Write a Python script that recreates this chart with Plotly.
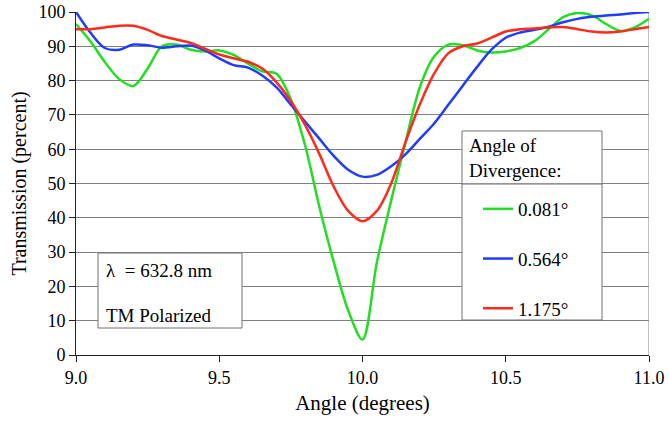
import plotly.graph_objects as go

angle = [9.00, 9.05, 9.10, 9.15, 9.20, 9.25, 9.30, 9.35, 9.40, 9.45,
         9.50, 9.55, 9.60, 9.65, 9.70, 9.75, 9.80, 9.85, 9.90, 9.95,
         10.00, 10.05, 10.10, 10.15, 10.20, 10.25, 10.30, 10.35, 10.40, 10.45,
         10.50, 10.55, 10.60, 10.65, 10.70, 10.75, 10.80, 10.85, 10.90, 10.95, 11.00]

div_0081 = [96.5, 91.5, 85.5, 80.5, 78.4, 83.5, 90.0, 90.5, 89.0, 88.5,
            88.8, 87.5, 85.0, 82.7, 82.0, 74.5, 61.0, 43.0, 27.0, 13.0,
            4.5, 27.0, 45.0, 62.0, 78.0, 87.0, 90.5, 90.3, 88.8, 88.2,
            88.5, 89.5, 91.5, 95.0, 98.5, 99.7, 99.0, 96.5, 94.5, 95.5, 98.0]

div_0564 = [100.0, 94.0, 89.5, 89.0, 90.5, 90.3, 89.6, 90.0, 90.2, 88.8,
            86.5, 84.5, 83.8, 81.5, 78.0, 73.0, 68.0, 63.0, 58.0, 54.0,
            52.0, 52.5, 55.0, 58.5, 63.0, 67.5, 73.0, 78.5, 84.0, 89.0,
            92.5, 94.0, 94.8, 95.7, 97.0, 98.0, 98.6, 99.0, 99.3, 99.7, 100.0]

div_1175 = [95.0, 95.0, 95.5, 96.0, 96.0, 94.8, 93.0, 92.0, 91.0, 89.3,
            87.6, 86.5, 85.5, 83.5, 79.5, 74.0, 67.0, 58.5, 49.0, 42.0,
            39.0, 42.0, 50.0, 62.0, 73.0, 82.0, 88.0, 90.0, 90.8, 92.5,
            94.3, 95.0, 95.2, 95.5, 95.6, 95.0, 94.3, 94.0, 94.3, 95.0, 95.6]

series_names = ["0.081°", "0.564°", "1.175°"]
series_values = [div_0081, div_0564, div_1175]
series_colors = ["#22dd22", "#1f3cff", "#ff2a1a"]

x_ticks = [9.0, 9.5, 10.0, 10.5, 11.0]
y_ticks = [0, 10, 20, 30, 40, 50, 60, 70, 80, 90, 100]

FONT = "'Times New Roman', 'Liberation Serif', 'DejaVu Serif', serif"

fig = go.Figure()
for i, (name, vals, col) in enumerate(zip(series_names, series_values, series_colors)):
    fig.add_trace(go.Scatter(
        x=angle, y=vals, name=name, mode="lines",
        line=dict(color=col, width=2.5, shape="spline", smoothing=0.9),
        legendgroup=f"g{i}",
    ))

grid = "#808080"
shapes = [
    dict(type="line", xref="x", yref="y", x0=11, x1=11, y0=0, y1=100,
         line=dict(color=grid, width=1), layer="below"),
    dict(type="rect", xref="paper", yref="paper",
         x0=(98 - 76) / 573, x1=(242 - 76) / 573,
         y0=(355 - 328) / 343, y1=(355 - 253) / 343,
         fillcolor="white", line=dict(color="#707070", width=1), layer="above"),
    dict(type="rect", xref="paper", yref="paper",
         x0=(462 - 76) / 573, x1=(602 - 76) / 573,
         y0=(355 - 184) / 343, y1=(355 - 131) / 343,
         fillcolor="white", line=dict(color="#707070", width=1), layer="above"),
    dict(type="rect", xref="paper", yref="paper",
         x0=(462 - 76) / 573, x1=(602 - 76) / 573,
         y0=(355 - 320) / 343, y1=(355 - 184) / 343,
         fillcolor="white", line=dict(color="#707070", width=1), layer="above"),
]

annotations = [
    dict(text="λ  = 632.8 nm", xref="paper", yref="paper",
         x=(104 - 76) / 573, y=(355 - 270) / 343, xanchor="left", yanchor="middle",
         showarrow=False, font=dict(family=FONT, size=19, color="black")),
    dict(text="TM Polarized", xref="paper", yref="paper",
         x=(104 - 76) / 573, y=(355 - 315) / 343, xanchor="left", yanchor="middle",
         showarrow=False, font=dict(family=FONT, size=19, color="black")),
    dict(text="Angle of<br>Divergence:", xref="paper", yref="paper",
         x=(467 - 76) / 573, y=(355 - 158) / 343, xanchor="left", yanchor="middle",
         align="left", showarrow=False,
         font=dict(family=FONT, size=19, color="black")),
]

fig.update_layout(
    width=668, height=422,
    margin=dict(l=76, r=19, t=12, b=67),
    paper_bgcolor="white", plot_bgcolor="white",
    font=dict(family=FONT, size=18, color="black"),
    shapes=shapes, annotations=annotations,
    showlegend=True,
    legend=dict(
        x=(478 - 76) / 573, y=(355 - 190) / 343, xanchor="left", yanchor="top",
        bgcolor="rgba(0,0,0,0)", borderwidth=0,
        font=dict(family=FONT, size=19, color="black"),
        traceorder="grouped", tracegroupgap=22,
    ),
    xaxis=dict(
        range=[9, 11], tickvals=x_ticks, tickformat=".1f",
        showgrid=False, zeroline=False, automargin=False,
        showline=True, linecolor="#222", linewidth=1,
        ticks="outside", ticklen=6, tickcolor="#222",
        tickfont=dict(family=FONT, size=18),
        title=dict(text="Angle (degrees)", font=dict(family=FONT, size=21), standoff=8),
    ),
    yaxis=dict(
        range=[0, 100], tickvals=y_ticks,
        showgrid=True, gridcolor=grid, gridwidth=1, zeroline=False, automargin=False,
        showline=True, linecolor="#222", linewidth=1,
        ticks="outside", ticklen=6, tickcolor="#222",
        tickfont=dict(family=FONT, size=18),
        title=dict(text="Transmission (percent)", font=dict(family=FONT, size=20), standoff=6),
    ),
)

fig.write_html("out.html", config={"displayModeBar": False},
               post_script="document.body.style.margin='0';")
